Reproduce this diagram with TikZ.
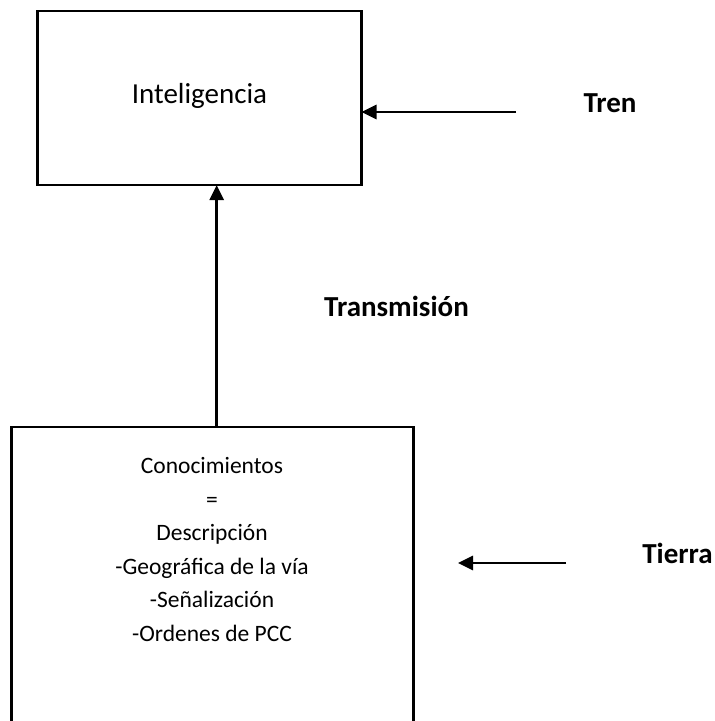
\documentclass[tikz,border=0pt]{standalone}
\usepackage{fontspec}
\setmainfont{Carlito}
\usetikzlibrary{arrows.meta}
\begin{document}
\begin{tikzpicture}[x=1bp,y=-1bp,
  box/.style={draw=black,line width=2.7bp,inner sep=0pt,outer sep=0pt,anchor=north west},
  arr/.style={line width=2.8bp,-{Triangle[length=15bp,width=14bp]}},
  title/.style={font=\fontsize{29bp}{34bp}\selectfont,anchor=base,inner sep=0pt},
  side/.style={font=\fontsize{29bp}{34bp}\selectfont\bfseries,anchor=base,inner sep=0pt},
  list/.style={font=\fontsize{23.5bp}{33.5bp}\selectfont,align=center,anchor=base,inner sep=0pt}]
  \clip (0,0) rectangle (715,721);
  \useasboundingbox (0,0) rectangle (715,721);

  % the two blocks
  \node[box,minimum width=324bp,minimum height=174bp] (intel) at (37.5,11) {};
  \node[box,minimum width=402bp,minimum height=330bp] (conoc) at (11.5,427) {};

  % their texts (base of a multi-line node = baseline of its last line)
  \node[title] (inteltext) at (199.5,104) {Inteligencia};
  \node[list] (conoctext) at (212,641)
    {Conocimientos\\=\\Descripción\\-Geográfica de la vía\\-Señalización\\-Ordenes de PCC};

  % side labels
  \node[side] (tren) at (610,113) {Tren};
  \node[side] (transm) at (396.5,316) {Transmisión};
  \node[side] (tierra) at (677.5,563) {Tierra};

  % connector ends
  \coordinate (ax) at (216.7,0);
  \coordinate (trenfrom) at (516,112);
  \coordinate (tierrafrom) at (566,563);
  \coordinate (tierrato) at (458,563);

  % connectors
  \draw[arr] (conoc.north -| ax) -- (intel.south -| ax);
  \draw[arr] (trenfrom) -- (intel.east |- trenfrom);
  \draw[arr] (tierrafrom) -- (tierrato);
\end{tikzpicture}
\end{document}
